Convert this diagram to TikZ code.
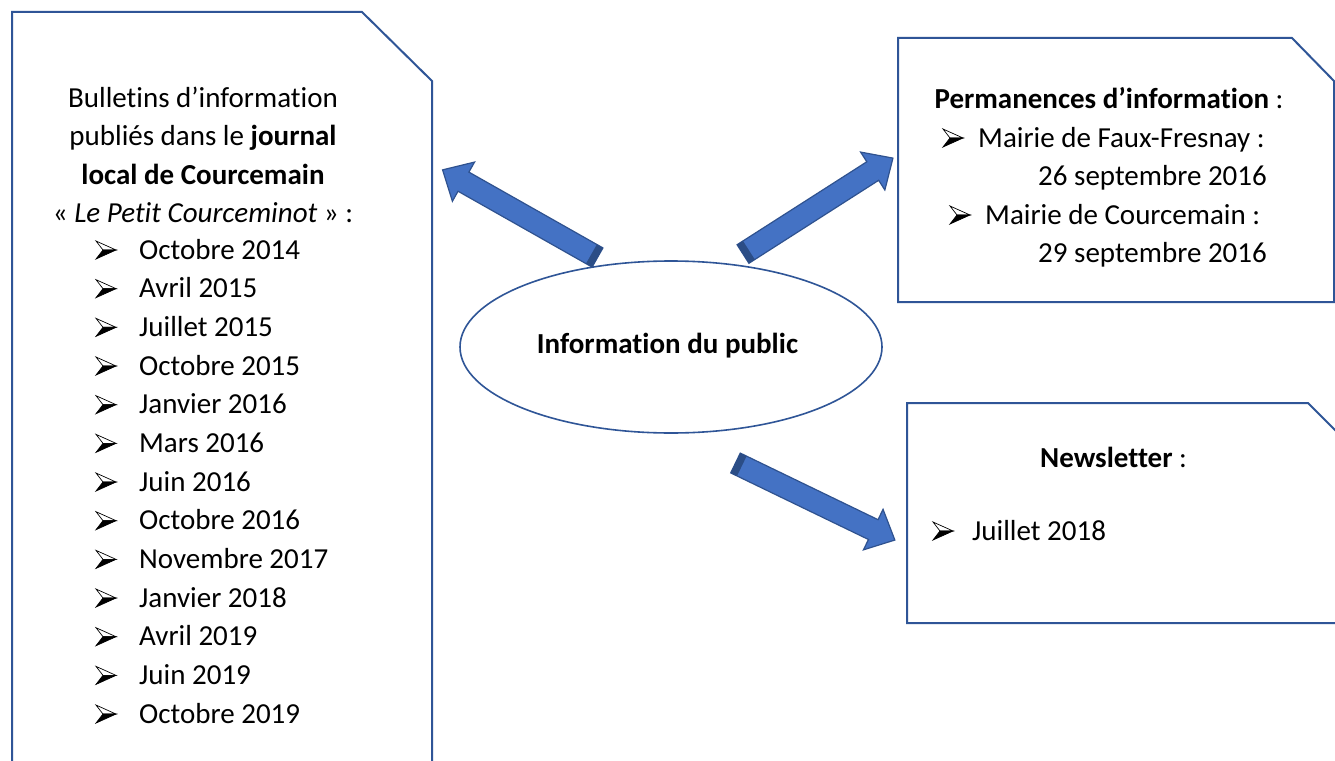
\documentclass[tikz,border=0pt]{standalone}
\usepackage{fontspec}
\setmainfont[Ligatures={NoCommon,NoRequired,NoContextual}]{Carlito}
\usetikzlibrary{shapes.geometric}
\definecolor{boxblue}{HTML}{2F5597}
\definecolor{arrowfill}{HTML}{4472C4}
\definecolor{arrowedge}{HTML}{2F528F}
\definecolor{arrowdark}{HTML}{2B4D86}
\newcommand{\blockarrow}[3]{%
  \begin{scope}[shift={#1}, rotate=#2]
    \fill[arrowfill, draw=arrowedge, line width=1.2pt, line join=miter]
      (0,-11) -- (#3-24,-11) -- (#3-24,-22.5) -- (#3,0) -- (#3-24,22.5) -- (#3-24,11) -- (0,11) -- cycle;
    \fill[arrowdark] (0,-11) -- (7,-11) -- (7,11) -- (0,11) -- cycle;
  \end{scope}}
\tikzset{
  panel/.style={draw=boxblue, line width=2pt, line join=miter},
  txt/.style={inner sep=0pt, anchor=base west, font=\fontsize{29}{38.5}\selectfont},
  ctxt/.style={inner sep=0pt, anchor=base, font=\fontsize{29}{38.5}\selectfont},
  arrowbullet/.pic={
    \draw[black, line width=0.7pt, fill=white, line join=miter] (0,-9) -- (20,0) -- (7,0) -- cycle;
    \fill[black] (7,0) -- (20,0) -- (0,9) -- cycle;
    \draw[black, line width=0.7pt, line join=miter] (7,0) -- (20,0) -- (0,9) -- cycle;
  }
}
\begin{document}
\begin{tikzpicture}[x=1pt,y=-1pt]
\useasboundingbox (0,0) rectangle (1335,760);
\clip (0,0) rectangle (1335,760);
\fill[white] (0,0) rectangle (1335,760);
% panels
\draw[panel] (12,775) -- (12,12) -- (362,12) -- (432,81) -- (432,775);
\draw[panel] (898,38) -- (1292,38) -- (1334,81) -- (1334,302) -- (898,302) -- cycle;
\draw[panel] (1350,623) -- (907,623) -- (907,403) -- (1308,403) -- (1350,445);
% ellipse
\node[ellipse, draw=boxblue, line width=1.6pt, minimum width=422pt, minimum height=172pt, inner sep=0pt] (ell) at (671,347) {};
\node[ctxt, font=\fontsize{29}{38.5}\selectfont\bfseries] (elltxt) at (667.5,353) {Information du public};
% arrows
\coordinate (t1) at (597.5,257.5);
\coordinate (t2) at (743,254);
\coordinate (t3) at (735.5,463);
\blockarrow{(t1)}{150.5}{178}
\blockarrow{(t2)}{32.6}{178}
\blockarrow{(t3)}{-25.8}{177}
% left panel text
\node[ctxt] (l1) at (203,107) {Bulletins d’information};
\node[ctxt] (l2) at (203,145.5) {publiés dans le \textbf{journal}};
\node[ctxt] (l3) at (203,184) {\textbf{local de Courcemain}};
\node[ctxt] (l4) at (203,222.5) {« \textit{Le Petit Courceminot} » :};
\foreach \t [count=\i] in {Octobre 2014, Avril 2015, Juillet 2015, Octobre 2015, Janvier 2016, Mars 2016, Juin 2016, Octobre 2016, Novembre 2017, Janvier 2018, Avril 2019, Juin 2019, Octobre 2019}{
  \pic at (96,{259+38.67*(\i-1)-9}) {arrowbullet};
  \node[txt] (lt\i) at (139,{259+38.67*(\i-1)}) {\t};
}
% top right text
\node[ctxt] (p0) at (1109,108) {\textbf{Permanences d’information} :};
\pic at (943,138) {arrowbullet};
\node[txt] (p1) at (978,147) {Mairie de Faux-Fresnay :};
\node[txt] (p2) at (1038,185.5) {26 septembre 2016};
\pic at (950,215) {arrowbullet};
\node[txt] (p3) at (985,224) {Mairie de Courcemain :};
\node[txt] (p4) at (1038,262.5) {29 septembre 2016};
% bottom right text
\node[txt] (n0) at (1040,467) {\textbf{Newsletter} :};
\pic at (933,531) {arrowbullet};
\node[txt] (n1) at (972,540) {Juillet 2018};
\end{tikzpicture}
\end{document}
